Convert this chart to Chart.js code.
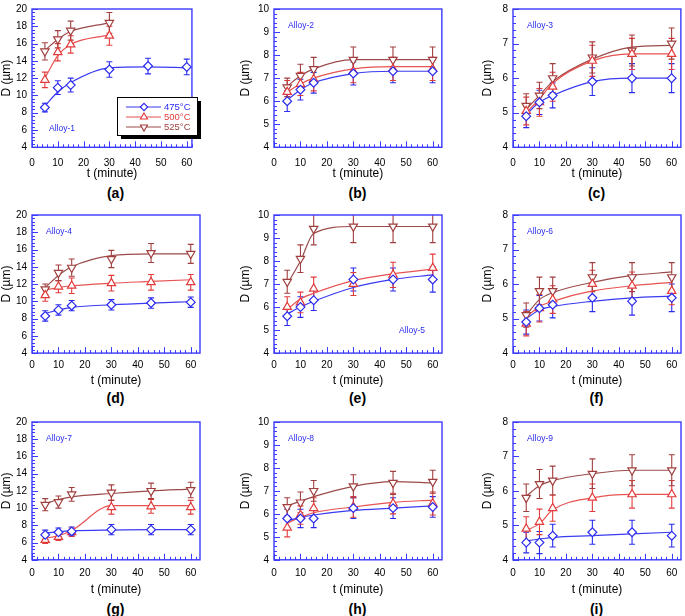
<!DOCTYPE html>
<html>
<head>
<meta charset="utf-8">
<script src="https://cdn.jsdelivr.net/npm/chart.js@4.4.1/dist/chart.umd.min.js"></script>
<style>
  body { margin: 0; width: 685px; height: 616px; overflow: hidden; background: #fff; position: relative; font-family: "Liberation Sans", Arial, sans-serif; }
  canvas { position: absolute; }
  .cap { position: absolute; font-weight: bold; font-size: 14px; transform: translate(-50%, -50%); color: #000; }
</style>
</head>
<body>
<script>
// grain size D (µm) vs annealing time, three temperatures per alloy
const times = [5, 10, 15, 30, 45, 60];
const temps = ['475°C', '500°C', '525°C'];
const alloyNames = ['Alloy-1', 'Alloy-2', 'Alloy-3', 'Alloy-4', 'Alloy-5', 'Alloy-6', 'Alloy-7', 'Alloy-8', 'Alloy-9'];
const panelLetters = ['(a)', '(b)', '(c)', '(d)', '(e)', '(f)', '(g)', '(h)', '(i)'];
const yMin = [4, 4, 4, 4, 4, 4, 4, 4, 4];
const yMax = [20, 10, 8, 20, 10, 8, 20, 10, 8];
const yStep = [2, 1, 1, 2, 1, 1, 2, 1, 1];

// rows = 475, 500, 525 °C
const alloy1D = [[8.6, 10.9, 11.2, 13.0, 13.4, 13.3], [11.8, 15.0, 15.9, 16.9, null, null], [15.1, 16.5, 17.5, 18.4, null, null]];
const alloy1Err = [[0.5, 0.8, 0.8, 0.9, 0.9, 0.9], [0.9, 1.0, 1.0, 1.1, null, null], [1.0, 1.0, 1.1, 1.2, null, null]];
const alloy1Fit = [[8.8, 10.4, 11.5, 13.2, 13.3, 13.2], [12.0, 14.6, 15.9, 17.0, null, null], [15.2, 16.5, 17.4, 18.4, null, null]];

const alloy2D = [[6.0, 6.5, 6.8, 7.2, 7.3, 7.3], [6.4, 6.75, 6.95, 7.3, 7.4, 7.4], [6.6, 7.1, 7.4, 7.8, 7.8, 7.8]];
const alloy2Err = [[0.45, 0.45, 0.45, 0.5, 0.5, 0.5], [0.5, 0.5, 0.5, 0.5, 0.5, 0.5], [0.4, 0.5, 0.5, 0.55, 0.55, 0.55]];
const alloy2Fit = [[6.05, 6.5, 6.8, 7.2, 7.3, 7.3], [6.4, 6.75, 7.0, 7.4, 7.5, 7.5], [6.65, 7.1, 7.4, 7.8, 7.8, 7.8]];

const alloy3D = [[4.9, 5.3, 5.5, 5.9, 6.0, 6.0], [5.05, 5.3, 5.75, 6.5, 6.7, 6.7], [5.2, 5.5, 6.0, 6.6, 6.8, 7.0]];
const alloy3Err = [[0.33, 0.35, 0.36, 0.4, 0.42, 0.42], [0.4, 0.4, 0.42, 0.45, 0.45, 0.45], [0.35, 0.38, 0.42, 0.45, 0.45, 0.45]];
const alloy3Fit = [[4.95, 5.3, 5.5, 5.9, 6.0, 6.0], [5.0, 5.4, 5.85, 6.5, 6.7, 6.7], [5.1, 5.5, 5.9, 6.55, 6.9, 6.95]];

const alloy4D = [[8.3, 9.0, 9.5, 9.6, 9.8, 9.9], [10.7, 11.7, 11.8, 12.1, 12.2, 12.2], [11.4, 13.3, 13.9, 14.9, 15.6, 15.5]];
const alloy4Err = [[0.6, 0.6, 0.6, 0.6, 0.6, 0.6], [0.7, 0.7, 0.9, 0.9, 0.9, 0.9], [0.6, 0.9, 1.0, 1.0, 1.1, 1.1]];
const alloy4Fit = [[8.6, 9.0, 9.3, 9.6, 9.8, 9.95], [11.3, 11.6, 11.8, 12.1, 12.3, 12.5], [11.6, 13.0, 14.0, 15.3, 15.5, 15.5]];

const alloy5D = [[5.6, 6.0, 6.3, 7.2, 7.2, 7.2], [6.0, 6.2, 6.8, 7.0, 7.4, 7.7], [7.1, 8.1, 9.4, 9.5, 9.5, 9.5]];
const alloy5Err = [[0.4, 0.45, 0.45, 0.5, 0.5, 0.55], [0.45, 0.45, 0.5, 0.5, 0.55, 0.6], [0.5, 0.6, 0.7, 0.7, 0.7, 0.7]];
const alloy5Fit = [[5.7, 6.0, 6.25, 6.85, 7.2, 7.4], [5.9, 6.35, 6.6, 7.15, 7.45, 7.65], [7.0, 8.0, 9.2, 9.5, 9.5, 9.5]];

const alloy6D = [[4.9, 5.3, 5.4, 5.6, 5.5, 5.6], [4.85, 5.3, 5.55, 6.0, 5.95, 5.8], [5.1, 5.8, 5.8, 6.2, 6.2, 6.2]];
const alloy6Err = [[0.35, 0.37, 0.38, 0.4, 0.4, 0.4], [0.35, 0.4, 0.4, 0.4, 0.4, 0.4], [0.35, 0.4, 0.4, 0.42, 0.42, 0.42]];
const alloy6Fit = [[5.0, 5.25, 5.35, 5.5, 5.6, 5.65], [5.05, 5.35, 5.5, 5.8, 5.95, 6.05], [5.1, 5.55, 5.75, 6.05, 6.25, 6.35]];

const alloy7D = [[6.9, 7.2, 7.3, 7.5, 7.5, 7.5], [6.3, 6.65, 7.2, 10.1, 10.2, 10.1], [10.4, 10.7, 11.6, 11.8, 12.0, 12.1]];
const alloy7Err = [[0.55, 0.5, 0.5, 0.6, 0.6, 0.6], [0.4, 0.4, 0.5, 0.8, 0.8, 0.8], [0.7, 0.7, 0.8, 0.9, 0.9, 0.9]];
const alloy7Fit = [[7.1, 7.25, 7.35, 7.45, 7.5, 7.5], [6.5, 6.8, 7.4, 10.3, 10.3, 10.3], [10.5, 11.0, 11.3, 11.7, 12.0, 12.2]];

const alloy8D = [[5.8, 5.8, 5.8, 6.25, 6.25, 6.3], [5.4, 5.95, 6.25, 6.3, 6.45, 6.45], [6.3, 6.5, 7.0, 7.2, 7.35, 7.4]];
const alloy8Err = [[0.4, 0.4, 0.4, 0.45, 0.45, 0.45], [0.4, 0.4, 0.45, 0.45, 0.45, 0.5], [0.4, 0.45, 0.45, 0.5, 0.5, 0.5]];
const alloy8Fit = [[5.7, 5.85, 5.95, 6.15, 6.25, 6.35], [5.6, 5.85, 6.05, 6.3, 6.5, 6.6], [6.35, 6.55, 6.75, 7.2, 7.4, 7.35]];

const alloy9D = [[4.5, 4.5, 4.7, 4.8, 4.8, 4.7], [4.9, 5.1, 5.5, 5.8, 5.9, 5.9], [5.8, 6.2, 6.3, 6.5, 6.6, 6.6]];
const alloy9Err = [[0.3, 0.32, 0.33, 0.35, 0.35, 0.33], [0.35, 0.37, 0.38, 0.4, 0.4, 0.4], [0.4, 0.42, 0.42, 0.43, 0.45, 0.45]];
const alloy9Fit = [[4.55, 4.6, 4.65, 4.7, 4.75, 4.8], [4.85, 5.05, 5.45, 5.8, 5.9, 5.9], [5.85, 6.15, 6.3, 6.5, 6.6, 6.6]];

const allD = [alloy1D, alloy2D, alloy3D, alloy4D, alloy5D, alloy6D, alloy7D, alloy8D, alloy9D];
const allErr = [alloy1Err, alloy2Err, alloy3Err, alloy4Err, alloy5Err, alloy6Err, alloy7Err, alloy8Err, alloy9Err];
const allFit = [alloy1Fit, alloy2Fit, alloy3Fit, alloy4Fit, alloy5Fit, alloy6Fit, alloy7Fit, alloy8Fit, alloy9Fit];

// styling / layout
const colors = ['#2b2bee', '#e23b3b', '#a13f3f'];
const fitColors = ['#3b3bf2', '#e85252', '#9c4b4b'];
const frameColor = '#3a3aff';
const markerStyle = [
  { pointStyle: 'rectRot', radius: 4.4, rotation: 0 },
  { pointStyle: 'triangle', radius: 4.8, rotation: 0 },
  { pointStyle: 'triangle', radius: 4.8, rotation: 180 }
];
const colLeft = [32, 274, 513];
const colRight = [203, 445, 684];
const rowTop = [6, 212, 419];
const rowBottom = [147, 353, 560];
const tickPad = [9.5, 6, 7.5];
const titleOff = [26.5, 27.7, 30];
const capY = [193, 398, 609];
const yTitleDist = [25.5, 29, 25];
const labelPos = ['bl', 'tl', 'tl', 'tl', 'br', 'tl', 'tl', 'tl', 'tl'];
const FONT = '"Liberation Sans", Arial, sans-serif';

const errorBars = {
  id: 'errorBars',
  beforeDatasetsDraw(chart) {
    const { ctx, chartArea: a, scales: { x, y } } = chart;
    ctx.save();
    ctx.beginPath();
    ctx.rect(a.left, a.top, a.right - a.left, a.bottom - a.top);
    ctx.clip();
    chart.data.datasets.forEach(ds => {
      if (!ds.hasErr) return;
      ctx.strokeStyle = ds.borderColor;
      ctx.lineWidth = 1.1;
      ds.data.forEach(p => {
        const px = x.getPixelForValue(p.x);
        const top = y.getPixelForValue(p.y + p.e);
        const bot = y.getPixelForValue(p.y - p.e);
        ctx.beginPath();
        ctx.moveTo(px, top); ctx.lineTo(px, bot);
        ctx.moveTo(px - 3, top); ctx.lineTo(px + 3, top);
        ctx.moveTo(px - 3, bot); ctx.lineTo(px + 3, bot);
        ctx.stroke();
      });
    });
    ctx.restore();
  }
};

const frameTicks = {
  id: 'frameTicks',
  afterDraw(chart) {
    const { ctx, chartArea: a, scales: { x, y } } = chart;
    ctx.save();
    ctx.strokeStyle = frameColor;
    ctx.lineWidth = 1.4;
    ctx.strokeRect(a.left, a.top, a.right - a.left, a.bottom - a.top);
    ctx.lineWidth = 1;
    ctx.beginPath();
    for (let v = 0; v <= x.max + 1e-6; v += 2) {
      const px = Math.round(x.getPixelForValue(v)) + 0.5;
      const len = v % 10 === 0 ? 6 : 3;
      ctx.moveTo(px, a.bottom); ctx.lineTo(px, a.bottom - len);
    }
    const st = y.options.ticks.stepSize;
    const minor = st / 5;
    for (let k = 0; y.min + k * minor <= y.max + 1e-6; k++) {
      const py = Math.round(y.getPixelForValue(y.min + k * minor)) + 0.5;
      const len = k % 5 === 0 ? 6 : 3;
      ctx.moveTo(a.left, py); ctx.lineTo(a.left + len, py);
    }
    ctx.stroke();
    ctx.restore();
  }
};

function alloyLabel(text, pos) {
  return {
    id: 'alloyLabel',
    afterDraw(chart) {
      const { ctx, chartArea: a } = chart;
      ctx.save();
      ctx.font = '8.5px ' + FONT;
      ctx.fillStyle = '#2b2bee';
      ctx.textBaseline = 'middle';
      if (pos === 'tl') { ctx.textAlign = 'left'; ctx.fillText(text, a.left + 14, a.top + 17); }
      else if (pos === 'bl') { ctx.textAlign = 'left'; ctx.fillText(text, a.left + 17, a.bottom - 19); }
      else { ctx.textAlign = 'right'; ctx.fillText(text, a.right - 17, a.bottom - 22); }
      ctx.restore();
    }
  };
}

const tempLegend = {
  id: 'tempLegend',
  afterDraw(chart) {
    const { ctx, chartArea: a } = chart;
    const bx = a.left + 85, by = a.top + 88, bw = 80, bh = 38;
    ctx.save();
    ctx.fillStyle = '#000';
    ctx.fillRect(bx + 4, by + 4, bw, bh);
    ctx.fillStyle = '#fff';
    ctx.fillRect(bx, by, bw, bh);
    ctx.strokeStyle = '#000';
    ctx.lineWidth = 1;
    ctx.strokeRect(bx + 0.5, by + 0.5, bw, bh);
    temps.forEach((t, i) => {
      const ly = by + 10 + i * 10;
      ctx.strokeStyle = fitColors[i];
      ctx.lineWidth = 1.1;
      ctx.beginPath(); ctx.moveTo(bx + 9, ly); ctx.lineTo(bx + 44, ly); ctx.stroke();
      ctx.fillStyle = '#fff';
      ctx.strokeStyle = colors[i];
      Chart.helpers.drawPoint(ctx, { pointStyle: markerStyle[i].pointStyle, radius: markerStyle[i].radius - 0.7, rotation: markerStyle[i].rotation, borderWidth: 1.1 }, bx + 27, ly);
      ctx.fillStyle = colors[i];
      ctx.font = '9.5px ' + FONT;
      ctx.textBaseline = 'middle';
      ctx.textAlign = 'left';
      ctx.fillText(t, bx + 47, ly);
    });
    ctx.restore();
  }
};

function points(vals, errs) {
  const out = [];
  vals.forEach((v, i) => { if (v !== null) out.push({ x: times[i], y: v, e: errs ? errs[i] : 0 }); });
  return out;
}

for (let p = 0; p < 9; p++) {
  const col = p % 3, row = Math.floor(p / 3);
  const plotL = colLeft[col];
  const plotR = p === 0 ? 199 : colRight[col];
  const plotT = rowTop[row], plotB = rowBottom[row];
  const L = 36, T = 8, R = 3;
  const B = titleOff[row] + 7.2 + 1;
  const cw = plotR - plotL + L + R;
  const ch = plotB - plotT + T + B;
  const cv = document.createElement('canvas');
  cv.width = Math.round(cw); cv.height = Math.round(ch);
  cv.style.left = (plotL - L) + 'px';
  cv.style.top = (plotT - T) + 'px';
  document.body.appendChild(cv);

  const pxPerMin = (colRight[col] - colLeft[col]) / 63.5;
  const xMax = (plotR - plotL) / pxPerMin;

  const datasets = [];
  for (let s = 0; s < 3; s++) {
    datasets.push({
      label: temps[s] + ' fit',
      data: points(allFit[p][s]),
      borderColor: fitColors[s],
      borderWidth: 1.2,
      pointRadius: 0,
      cubicInterpolationMode: 'monotone',
      fill: false,
      order: 1
    });
  }
  for (let s = 0; s < 3; s++) {
    datasets.push({
      label: temps[s],
      data: points(allD[p][s], allErr[p][s]),
      hasErr: true,
      showLine: false,
      borderColor: colors[s],
      backgroundColor: '#ffffff',
      pointBackgroundColor: '#ffffff',
      pointBorderColor: colors[s],
      pointBorderWidth: 1.2,
      pointStyle: markerStyle[s].pointStyle,
      pointRadius: markerStyle[s].radius,
      pointRotation: markerStyle[s].rotation,
      order: 0
    });
  }

  const plugins = [errorBars, frameTicks, alloyLabel(alloyNames[p], labelPos[p])];
  if (p === 0) plugins.push(tempLegend);

  new Chart(cv, {
    type: 'line',
    data: { datasets },
    plugins,
    options: {
      responsive: false,
      animation: false,
      events: [],
      layout: { padding: { left: 0, top: T, right: R, bottom: 0 } },
      plugins: { legend: { display: false }, tooltip: { enabled: false } },
      scales: {
        x: {
          type: 'linear',
          min: 0, max: xMax,
          afterFit(s) { s.height = B; },
          afterBuildTicks(s) { s.ticks = [0, 10, 20, 30, 40, 50, 60].map(v => ({ value: v })); },
          grid: { display: false, drawTicks: false },
          border: { display: false },
          ticks: { color: '#000', font: { size: 10, family: FONT }, padding: tickPad[row], maxRotation: 0 },
          title: { display: true, text: 't (minute)', color: '#000', font: { size: 12, family: FONT }, padding: { top: 0, bottom: 1 } }
        },
        y: {
          min: yMin[p], max: yMax[p],
          afterFit(s) { s.width = L; },
          grid: { display: false, drawTicks: false },
          border: { display: false },
          ticks: { stepSize: yStep[p], color: '#000', font: { size: 10, family: FONT }, padding: 5 },
          title: { display: true, text: 'D (µm)', color: '#000', font: { size: 12, family: FONT }, padding: { top: Math.max(0, L - yTitleDist[col] - 7.2), bottom: 0 } }
        }
      }
    }
  });

  const cap = document.createElement('div');
  cap.className = 'cap';
  cap.textContent = panelLetters[p];
  cap.style.left = ((colLeft[col] + colRight[col]) / 2 - 2) + 'px';
  cap.style.top = capY[row] + 'px';
  document.body.appendChild(cap);
}
</script>
</body>
</html>
